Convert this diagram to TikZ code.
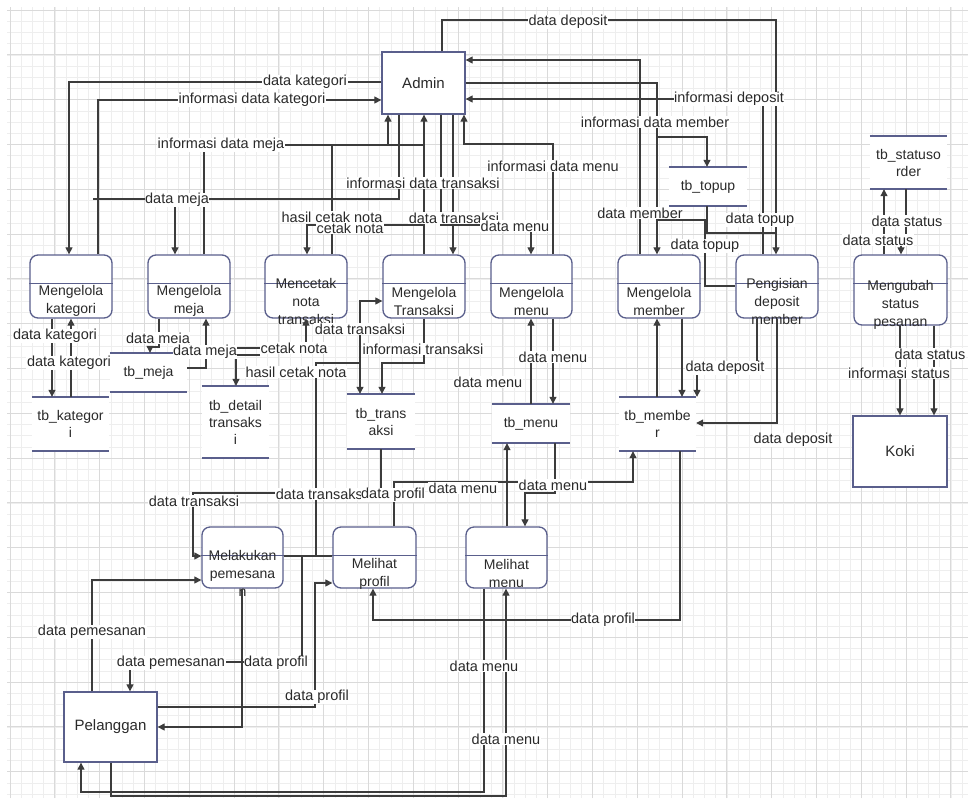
\documentclass[tikz,border=0pt]{standalone}
\usepackage{fontspec}
\setmainfont{Liberation Sans}
\usetikzlibrary{arrows.meta,calc}
\definecolor{linec}{HTML}{3C3C3C}
\definecolor{boxc}{HTML}{5A5F8C}
\definecolor{txtc}{HTML}{2A2A2A}
\definecolor{gridminor}{HTML}{EEEEEE}
\definecolor{gridmajor}{HTML}{DADADA}
\tikzset{
  ln/.style={draw=linec, line width=1.1pt},
  ar/.style={ln, -{Triangle[length=7pt,width=7pt]}},
  lbl/.style={fill=white, inner sep=0.6pt, text=txtc, font=\fontsize{14.5}{16}\selectfont},
  proc/.style={draw=boxc, fill=white, line width=1.3pt, rounded corners=8pt, inner sep=0pt},
  divc/.style={draw=boxc, line width=1.3pt},
  ptxt/.style={align=center, text=txtc, inner sep=0pt, font=\fontsize{14}{18}\selectfont},
  ext/.style={draw=boxc, fill=white, line width=1.3pt, inner sep=0pt, text=txtc, font=\fontsize{15}{18}\selectfont},
  store/.style={fill=white, inner sep=0pt, align=center, text=txtc, font=\fontsize{14}{17}\selectfont},
  storec/.style={draw=boxc, line width=1.5pt},
}
\newcommand{\mkproc}[7]{%
  \node[proc, minimum width={#3pt-#2pt}, minimum height={#5pt-#4pt}] (#1) at ({(#2+#3)/2},{(#4+#5)/2}) {};
  \draw[divc] ($(#1.north west)+(0,29)$) -- ($(#1.north east)+(0,29)$);
  \node[ptxt] (#1t) at ({(#2+#3)/2},#7) {#6};
}
\newcommand{\mkstore}[6]{%
  \node[store, minimum width={#3pt-#2pt}, minimum height={#5pt-#4pt}] (#1) at ({(#2+#3)/2},{(#4+#5)/2}) {#6};
  \draw[storec] (#1.north west) -- (#1.north east) (#1.south west) -- (#1.south east);
}
\begin{document}
\begin{tikzpicture}[x=1pt,y=-1pt]
\useasboundingbox (0,0) rectangle (968,798);
\fill[white] (0,0) rectangle (968,798);
% grid
\begin{scope}[shift={(10,10)}]
  \draw[gridminor, line width=0.6pt, step=11.2pt] (-3,-3) grid (958,788);
  \draw[gridmajor, line width=0.8pt, step=44.8pt] (-3,-3) grid (958,788);
\end{scope}

% ---------- entities ----------
\node[ext, minimum width=83pt, minimum height=62pt] (admin) at (423.5,83) {Admin};
\node[ext, minimum width=94pt, minimum height=71pt] (koki) at (900,451.5) {Koki};
\node[ext, minimum width=93pt, minimum height=70pt] (pel) at (110.5,727) {Pelanggan};

% ---------- processes ----------
\mkproc{mk}{30}{112}{255}{318}{Mengelola\\kategori}{301}
\mkproc{mm}{148}{230}{255}{318}{Mengelola\\meja}{301}
\mkproc{mc}{265}{347}{255}{318}{Mencetak\\nota\\transaksi}{301}
\mkproc{mt}{383}{465}{255}{318}{Mengelola\\Transaksi}{301}
\mkproc{mn}{491}{572}{255}{318}{Mengelola\\menu}{301}
\mkproc{mb}{618}{700}{255}{318}{Mengelola\\member}{301}
\mkproc{pd}{736}{818}{255}{318}{Pengisian\\deposit\\member}{301}
\mkproc{ms}{854}{947}{255}{325}{Mengubah\\status\\pesanan}{305}
\mkproc{mp}{202}{283}{527}{588}{Melakukan\\pemesana\\n}{573.5}
\mkproc{vp}{333}{416}{527}{588}{Melihat\\profil}{573.5}
\mkproc{vm}{466}{547}{527}{588}{Melihat\\menu}{573.5}

% ---------- data stores ----------
\mkstore{tk}{32}{109}{397}{451}{tb\_kategor\\i}
\mkstore{tm}{110}{187}{353}{392}{tb\_meja}
\mkstore{td}{202}{269}{386}{458}{tb\_detail\\transaks\\i}
\mkstore{tt}{347}{415}{394}{449}{tb\_trans\\aksi}
\mkstore{tmn}{492}{570}{404}{443}{tb\_menu}
\mkstore{tmb}{619}{696}{397}{451}{tb\_membe\\r}
\mkstore{ttp}{669}{747}{167}{206}{tb\_topup}
\mkstore{tso}{870}{947}{136}{189}{tb\_statuso\\rder}

% ---------- connectors: Admin ----------
\draw[ar] (admin.west |- 0,82) -| (69,0 |- mk.north);
\draw[ar] (98,0 |- mk.north) |- (admin.west |- 0,100);
\draw[ar] (204,0 |- mm.north) |- (388,145) -- (388,0 |- admin.south);
\draw[ln] (332,0 |- mc.north) |- (424,145);
\draw[ar] (424,0 |- mt.north) -- (424,0 |- admin.south);
\draw[ln] (399,0 |- admin.south) |- (93,199);
\coordinate (cm1) at (175,199);
\draw[ar] (cm1) -- (175,0 |- mm.north);
\draw[ar] (453,0 |- admin.south) -- (453,0 |- mt.north);
\draw[ar] (441,0 |- admin.south) |- (531,225) -- (531,0 |- mn.north);
\coordinate (cn1) at (424,225);
\draw[ar] (cn1) -| (307,0 |- mc.north);
\draw[ar] (553,0 |- mn.north) |- (464,144) -- (464,0 |- admin.south);
\draw[ar] (442,0 |- admin.north) |- (776,20) -- (776,0 |- pd.north);
\draw[ar] (640,0 |- mb.north) |- (admin.east |- 0,60);
\draw[ar] (admin.east |- 0,83) -| (657,0 |- mb.north);
\coordinate (cb1) at (657,137);
\draw[ar] (cb1) -| (707,0 |- ttp.north);
\draw[ar] (763,0 |- pd.north) |- (admin.east |- 0,99);
\coordinate (ct1) at (657,220);
\draw[ln] (ct1) -| (705,286) -- (pd.west |- 0,286);
\draw[ln] (707,0 |- ttp.south) |- (776,233);

% ---------- member / deposit ----------
\draw[ar] (657,0 |- tmb.north) -- (657,0 |- mb.south);
\draw[ar] (682,0 |- mb.south) -- (682,0 |- tmb.north);
\draw[ar] (757,0 |- pd.south) |- (697,368) -- (697,0 |- tmb.north);
\draw[ar] (777,0 |- pd.south) |- (tmb.east |- 0,423);
\draw[ar] (680,0 |- tmb.south) |- (373,620) -- (373,0 |- vp.south);
\draw[ar] (394,0 |- vp.north) |- (633,482) -- (633,0 |- tmb.south);

% ---------- menu ----------
\draw[ar] (531,0 |- tmn.north) -- (531,0 |- mn.south);
\draw[ar] (553,0 |- mn.south) -- (553,0 |- tmn.north);
\draw[ar] (507,0 |- vm.north) -- (507,0 |- tmn.south);
\draw[ar] (555,0 |- tmn.south) |- (525,493) -- (525,0 |- vm.north);

% ---------- transaksi ----------
\draw[ar] (424,0 |- mt.south) |- (382,363) -- (382,0 |- tt.north);
\draw[ln] (mp.east |- 0,556) -- (vp.west |- 0,556);
\coordinate (cx1) at (316,556);
\coordinate (cx2) at (360,363);
\draw[ln] (cx1) |- (cx2);
\draw[ar] (cx2) |- (mt.west |- 0,301);
\draw[ar] (cx2) -- (360,0 |- tt.north);
\draw[ar] (381,0 |- tt.south) |- (193,493) |- (mp.west |- 0,556);

% ---------- pelanggan ----------
\draw[ar] (92,0 |- pel.north) |- (mp.west |- 0,580);
\coordinate (cp1) at (302,556);
\draw[ar] (cp1) |- (130,662) -- (130,0 |- pel.north);
\draw[ar] (242,0 |- mp.south) |- (pel.east |- 0,727);
\draw[ar] (pel.east |- 0,707) -| (315,583) -- (vp.west |- 0,583);
\draw[ar] (484,0 |- vm.south) |- (81,792) -- (81,0 |- pel.south);
\draw[ar] (111,0 |- pel.south) |- (506,796) -- (506,0 |- vm.south);

% ---------- left side ----------
\draw[ar] (52,0 |- mk.south) -- (52,0 |- tk.north);
\draw[ar] (71,0 |- tk.north) -- (71,0 |- mk.south);
\draw[ar] (159,0 |- mm.south) |- (150,347) -- (150,0 |- tm.north);
\draw[ar] (tm.east |- 0,368) -| (206,0 |- mm.south);
\coordinate (cc1) at (236,348);
\coordinate (cc2) at (260,355);
\draw[ar] (cc1) -| (306,0 |- mc.south);
\draw[ar] (cc2) -| (236,0 |- td.north);

% ---------- status ----------
\draw[ar] (884,0 |- ms.north) -- (884,0 |- tso.south);
\draw[ar] (906,0 |- tso.south) |- (901,242) -- (901,0 |- ms.north);
\draw[ar] (900,0 |- ms.south) -- (900,0 |- koki.north);
\draw[ar] (934,0 |- ms.south) -- (934,0 |- koki.north);

% ---------- labels ----------
\node[lbl] (l1) at (305,82) {data kategori};
\node[lbl] (l2) at (252,100) {informasi data kategori};
\node[lbl] (l3) at (221,145) {informasi data meja};
\node[lbl] (l4) at (177,200) {data meja};
\node[lbl] (l5) at (423,183) {informasi data transaksi};
\node[lbl] (l6) at (350,228) {cetak nota};
\node[lbl] (l7) at (332,217) {hasil cetak nota};
\node[lbl] (l8) at (454,218) {data transaksi};
\node[lbl] (l9) at (515,226) {data menu};
\node[lbl] (l10) at (553,166) {informasi data menu};
\node[lbl] (l11) at (568,22) {data deposit};
\node[lbl] (l12) at (729,99) {informasi deposit};
\node[lbl] (l13) at (655,122) {informasi data member};
\node[lbl] (l14) at (640,213) {data member};
\node[lbl] (l15) at (760,220) {data topup};
\node[lbl] (l16) at (705,246) {data topup};
\node[lbl] (l17) at (907,221) {data status};
\node[lbl] (l18) at (878,240) {data status};
\node[lbl] (l19) at (930,354) {data status};
\node[lbl] (l20) at (899,373) {informasi status};
\node[lbl] (l21) at (725,368) {data deposit};
\node[lbl] (l22) at (793,440) {data deposit};
\node[lbl] (l23) at (553,357) {data menu};
\node[lbl] (l24) at (488,382) {data menu};
\node[lbl] (l25) at (423,349) {informasi transaksi};
\node[lbl] (l26) at (360,329) {data transaksi};
\node[lbl] (l27) at (55,336) {data kategori};
\node[lbl] (l28) at (69,363) {data kategori};
\node[lbl] (l29) at (158,338) {data meia};
\node[lbl] (l30) at (205,352) {data meja};
\node[lbl] (l31) at (294,348) {cetak nota};
\node[lbl] (l32) at (296,372) {hasil cetak nota};
\node[lbl] (l33) at (194,501) {data transaksi};
\node[lbl] (l34) at (321,494) {data transaksi};
\node[lbl] (l35) at (393,495) {data profil};
\node[lbl] (l36) at (463,488) {data menu};
\node[lbl] (l37) at (553,485) {data menu};
\node[lbl] (l38) at (603,620) {data profil};
\node[lbl] (l39) at (92,632) {data pemesanan};
\node[lbl] (l40) at (171,663) {data pemesanan};
\node[lbl] (l41) at (276,663) {data profil};
\node[lbl] (l42) at (317,697) {data profil};
\node[lbl] (l43) at (484,666) {data menu};
\node[lbl] (l44) at (506,739) {data menu};
\end{tikzpicture}
\end{document}
